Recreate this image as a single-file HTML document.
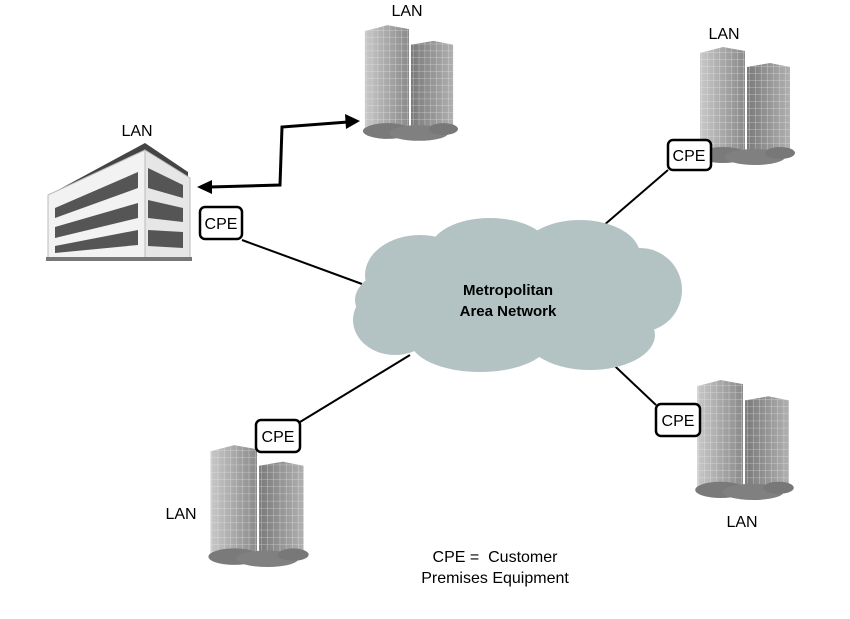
<!DOCTYPE html>
<html><head><style>
body{margin:0;background:#fff;}
svg{display:block;font-family:"Liberation Sans",sans-serif;}
</style></head><body>
<svg width="850" height="619" viewBox="0 0 850 619">
<defs>
<linearGradient id="tl" x1="0" x2="1"><stop offset="0" stop-color="#c8c8c8"/><stop offset="1" stop-color="#8a8a8a"/></linearGradient>
<linearGradient id="tr" x1="0" x2="1"><stop offset="0" stop-color="#7a7a7a"/><stop offset="1" stop-color="#b0b0b0"/></linearGradient>
<pattern id="win" width="6" height="7" patternUnits="userSpaceOnUse"><rect width="6" height="7" fill="none"/><path d="M0 0H6M0 0V7" stroke="#eee" stroke-width="0.8" opacity="0.7"/></pattern>
<symbol id="tower" viewBox="0 0 100 120">
<path d="M5 8 L28 2 L50 6 L50 110 L5 110 Z" fill="url(#tl)"/>
<path d="M5 8 L28 2 L50 6 L50 110 L5 110 Z" fill="url(#win)"/>
<path d="M52 22 L75 18 L95 22 L95 110 L52 110 Z" fill="url(#tr)"/>
<path d="M52 22 L75 18 L95 22 L95 110 L52 110 Z" fill="url(#win)"/>
<ellipse cx="28" cy="110" rx="25" ry="8" fill="#7a7a7a"/>
<ellipse cx="60" cy="112" rx="30" ry="8" fill="#808080"/>
<ellipse cx="85" cy="108" rx="15" ry="6" fill="#787878"/>
</symbol>
</defs>

<g stroke="#000" stroke-width="2" fill="none">
<line x1="242" y1="240" x2="362" y2="284"/>
<line x1="668" y1="170" x2="603" y2="226"/>
<line x1="300" y1="422" x2="410" y2="355"/>
<line x1="656" y1="405" x2="600" y2="352"/>
<polyline points="210,187 280,185 282,127 348,122" stroke-width="3"/>
</g>
<polygon points="197,187 212,180 212,194" fill="#000"/>
<polygon points="360,121 345,114 346,129" fill="#000"/>

<g fill="#b3c3c3">
<ellipse cx="515" cy="300" rx="160" ry="55"/>
<ellipse cx="420" cy="275" rx="55" ry="40"/>
<ellipse cx="490" cy="250" rx="60" ry="32"/>
<ellipse cx="580" cy="255" rx="60" ry="35"/>
<ellipse cx="640" cy="290" rx="42" ry="42"/>
<ellipse cx="395" cy="320" rx="42" ry="35"/>
<ellipse cx="480" cy="340" rx="70" ry="32"/>
<ellipse cx="590" cy="335" rx="65" ry="35"/>
</g>
<text x="508" y="295" text-anchor="middle" font-size="15" font-weight="bold">Metropolitan</text>
<text x="508" y="316" text-anchor="middle" font-size="15" font-weight="bold">Area Network</text>

<use href="#tower" x="360" y="22" width="98" height="120"/>
<use href="#tower" x="695" y="45" width="100" height="120"/>
<use href="#tower" x="205" y="443" width="104" height="124"/>
<use href="#tower" x="690" y="378" width="106" height="122"/>

<polygon points="58,190 145,143 188,172 188,190" fill="#444"/>
<polygon points="48,195 145,150 145,258 48,258" fill="#f2f2f2" stroke="#bbb"/>
<polygon points="145,150 190,178 190,258 145,258" fill="#e6e6e6" stroke="#bbb"/>
<g fill="#555">
<polygon points="55,208 138,172 138,188 55,218"/>
<polygon points="55,227 138,203 138,218 55,238"/>
<polygon points="55,246 138,230 138,245 55,253"/>
<polygon points="148,168 183,185 183,198 148,188"/>
<polygon points="148,200 183,208 183,222 148,218"/>
<polygon points="148,230 183,232 183,248 148,246"/>
</g>
<rect x="46" y="257" width="146" height="4" fill="#777"/>

<g fill="#fff" stroke="#000" stroke-width="2.5">
<rect x="200" y="207" width="42" height="32" rx="5"/>
<rect x="668" y="140" width="43" height="30" rx="5"/>
<rect x="256" y="420" width="44" height="32" rx="5"/>
<rect x="656" y="404" width="44" height="32" rx="5"/>
</g>
<g font-size="16" text-anchor="middle">
<text x="221" y="229">CPE</text>
<text x="689" y="161">CPE</text>
<text x="278" y="442">CPE</text>
<text x="678" y="426">CPE</text>
<text x="407" y="16">LAN</text>
<text x="137" y="136">LAN</text>
<text x="724" y="39">LAN</text>
<text x="181" y="519">LAN</text>
<text x="742" y="527">LAN</text>
<text x="495" y="562">CPE =&#160; Customer</text>
<text x="495" y="583">Premises Equipment</text>
</g>
</svg>
</body></html>
